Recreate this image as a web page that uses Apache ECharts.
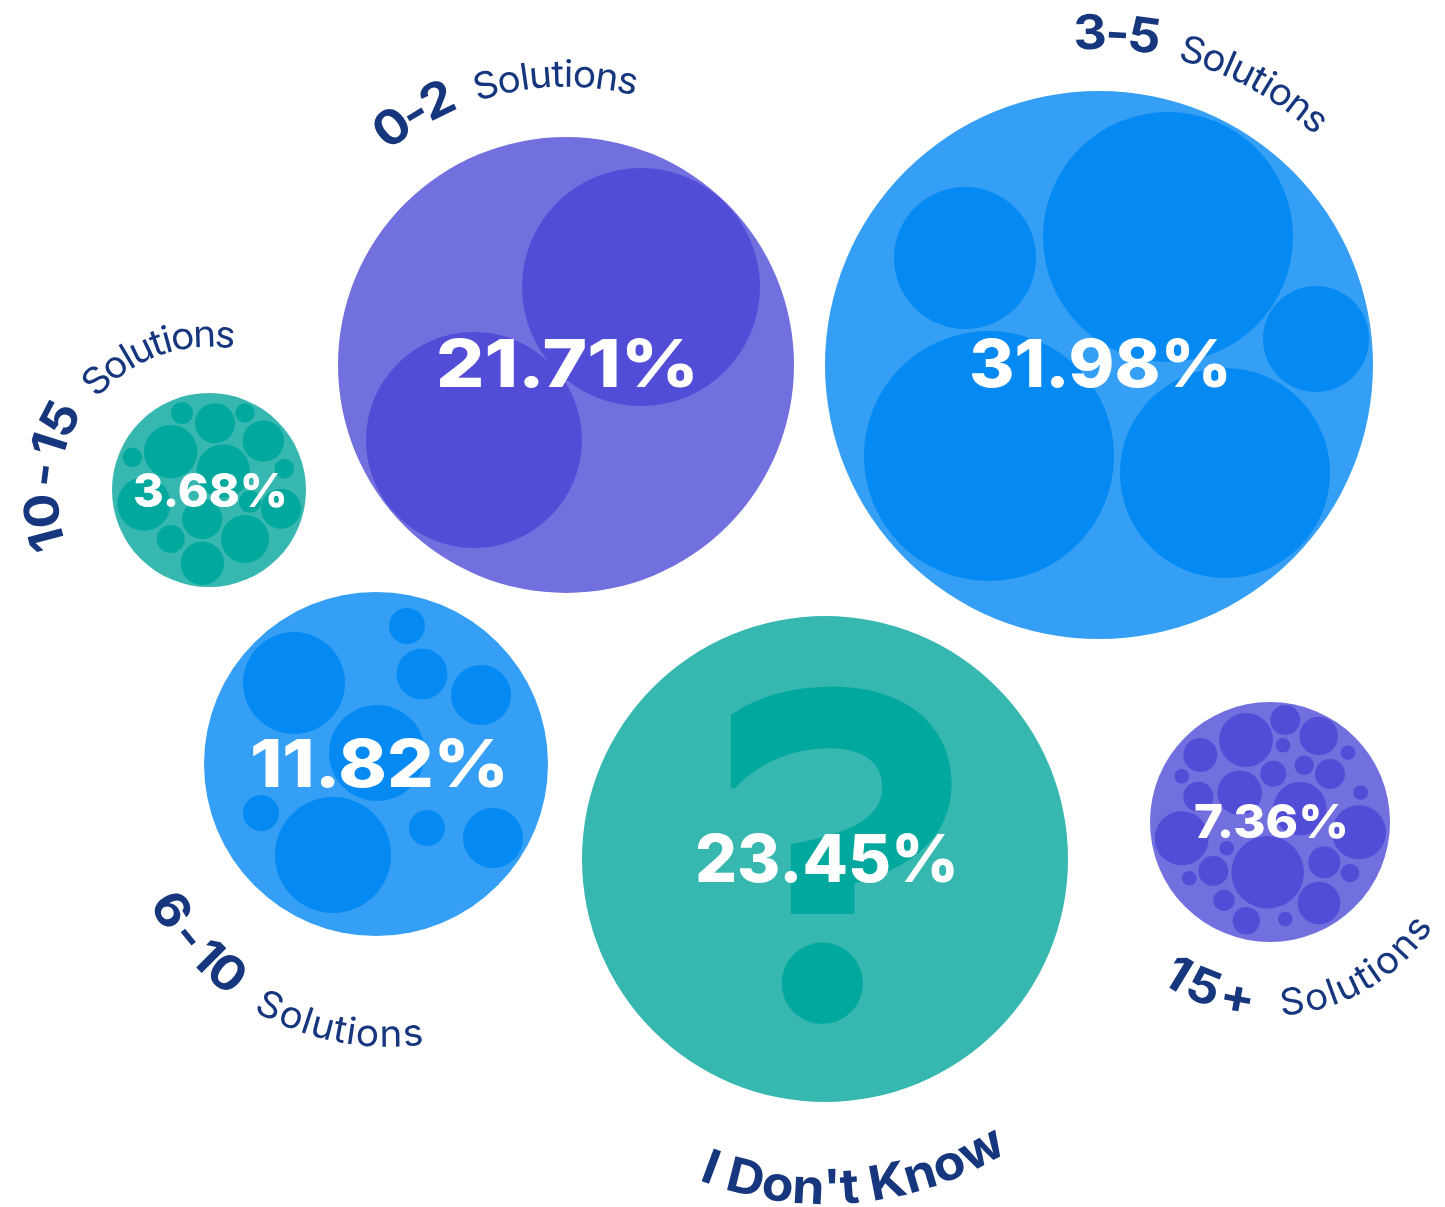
<!DOCTYPE html>
<html><head><meta charset="utf-8">
<style>html,body{margin:0;padding:0;background:#fff}#c{width:1445px;height:1207px}</style>
<script src="https://cdn.jsdelivr.net/npm/echarts@6/dist/echarts.min.js"></script>
</head><body><div id="c"></div>
<script>
// Outer bubbles: [x, y, radius]
const groupNames = ['0-2', '3-5', '10-15', '6-10', 'I Don\'t Know', '15+'];
const outerBubbles = [[566,365,228],[1099,365,274],[209,490,97],[376,764,172],[825,859,243],[1270,822,120]];
const outerColors = ['#7270df','#349ff4','#36b7af','#349ff4','#36b7af','#7270df'];
const innerColors = ['#524dd6','#0589f2','#01a89e','#0589f2','#01a89e','#524dd6'];
const inner0to2 = [[641,287,119],[474,440,108]];
const inner3to5 = [[1168,237,125],[965,258,71],[1316,339,53],[989,456,125],[1225,473,105]];
const inner10to15 = [[182,413,11],[215,423.3,20],[245,413,9.7],[263.3,441,20.7],[170.7,451.7,26.7],[132.3,457.3,9.7],[223.3,471,26.7],[284.3,468.7,9.7],[144,504,26.7],[281,508.7,20],[250,501.7,11],[202.3,519,20],[170.7,539,14],[245,539,24],[202.3,563.3,21.7]];
const inner6to10 = [[294,683,51],[407,626,18],[422,674,25.5],[481,695,30],[377,753,48],[261,813,18],[333,855,58],[427,828,18],[493,838,30]];
const innerUnknown = [[822.3,983.3,40.7]];
const inner15plus = [[1246,740,27],[1285.3,720,15],[1318.7,736,19.3],[1200.3,755,17],[1283,745.3,7.3],[1348,752.7,7.3],[1181.7,776.3,7.3],[1273.3,773.7,13],[1304.3,765.3,9.7],[1330,774,15],[1239.7,792.7,22.3],[1198.3,796.7,15],[1300,808.7,26.7],[1360.7,792.7,7.3],[1181.7,838.3,27],[1359,832.3,27],[1226.7,848.3,7.3],[1267.7,872.3,36.3],[1324.3,862.3,16],[1213.3,871,15],[1189.3,878.3,7.3],[1350,873,9.3],[1319,903,21.3],[1224,900.3,10.7],[1246.3,920.7,13.7],[1285.3,919,7.3]];
const innerGroups = [inner0to2, inner3to5, inner10to15, inner6to10, innerUnknown, inner15plus];
// Question mark glyph
const questionCentre = [841.3, 800.3];
const questionSize = [220.7, 227.3];
const questionPath = 'path://M153 135C240 75 340 50 460 50C680 50 815 170 815 340C815 490 710 590 523 640L523 732L333 732L333 522C520 490 607 440 607 350C607 280 550 235 450 235C340 235 240 275 165 355L153 355Z';
// Percent labels: [x, y, text, font size, drawn width]
const percentLabels = [[567.5,367,'21.71%',66,263],[1100.5,367,'31.98%',66,263],[379.5,767,'11.82%',66,259],[827,862,'23.45%',66,264],[210.5,493,'3.68%',47,155],[1271.5,823.5,'7.36%',47,155]];
// Curved labels: text, arc centre x, y, radius, start and end angle, weight, size, horizontal stretch, top arc or bottom arc
const curvedLabels = [
  ['0-2',566,365,279,-38.8,-23.5,700,48,1.08,'top'],
  ['Solutions',566,365,279,-18.4,14.3,400,37,1.05,'top'],
  ['3-5',1099,365,317,-3.8,10.1,700,48,1.08,'top'],
  ['Solutions',1099,365,316,14.5,43.2,400,37,1.05,'top'],
  ['10-15',210,496,153,-109,-57,700,48,1.08,'top'],
  ['Solutions',210,496,150,-48.7,8.9,400,37,1.05,'top'],
  ['6-10',389,774,272,-61.5,-35.5,700,48,1.08,'bottom'],
  ['Solutions',389,774,272,-30,7.5,400,37,1.05,'bottom'],
  ['15+',1270,822,193,-35,-4.5,700,48,1.08,'bottom'],
  ['Solutions',1270,822,193,3,57.5,400,37,1.05,'bottom'],
  ["I Don't Know",825,859,344,-21.5,32,700,48,1.08,'bottom']
];
const fontFamily = 'Inter';
const textColor = '#16377d';
const percentWeight = 800;

const measure = document.createElement('canvas').getContext('2d');
function glyphs() {
  const out = [];
  curvedLabels.forEach(([text,cx,cy,r,a0,a1,weight,size,stretch,side]) => {
    measure.font = weight+' '+size+'px '+fontFamily;
    const chars = Array.from(text);
    const adv = chars.map(c => measure.measureText(c).width * (c === '-' ? 1.5 : 1));
    const total = adv.reduce((a,b)=>a+b,0);
    let run = 0;
    chars.forEach((c,i) => {
      const t = (run + adv[i]/2) / total;
      run += adv[i];
      if (c === ' ') return;
      const a = (a0 + (a1-a0)*t) * Math.PI/180;
      const top = side === 'top';
      const rr = top ? r + size*0.28 : r - size*0.28;
      const x = cx + rr*Math.sin(a);
      const y = top ? cy - rr*Math.cos(a) : cy + rr*Math.cos(a);
      const rot = top ? -a : a;
      out.push([x,y,c,rot,weight,size,stretch]);
    });
  });
  return out;
}

const bubble = (data,color,z) => ({type:'scatter',data,z,silent:true,symbol:'circle',
  symbolSize:v=>v[2]*2,itemStyle:{color,opacity:1},emphasis:{disabled:true}});

const series = [];
outerBubbles.forEach((b,i)=>{
  series.push(bubble([b],outerColors[i],1));
  series.push(bubble(innerGroups[i],innerColors[i],2));
});
series.push({type:'scatter',z:3,silent:true,data:[questionCentre],symbol:questionPath,symbolSize:questionSize,symbolKeepAspect:false,itemStyle:{color:innerColors[4],opacity:1}});
series.push({type:'custom',z:10,silent:true,coordinateSystem:'cartesian2d',data:percentLabels,
  renderItem:(p,api)=>{const d=percentLabels[p.dataIndex];const c=api.coord([d[0],d[1]]);
    measure.font=percentWeight+' '+d[3]+'px '+fontFamily;
    const sx=d[4]/measure.measureText(d[2]).width;
    return {type:'text',x:c[0],y:c[1],scaleX:sx,style:{text:d[2],fill:'#fff',fontFamily,fontWeight:percentWeight,fontSize:d[3],align:'center',verticalAlign:'middle'}};}});
const gl = glyphs();
series.push({type:'custom',z:10,silent:true,coordinateSystem:'cartesian2d',data:gl,
  renderItem:(p,api)=>{const d=gl[p.dataIndex];const c=api.coord([d[0],d[1]]);
    return {type:'text',x:c[0],y:c[1],rotation:d[3],scaleX:d[6],style:{text:d[2],fill:textColor,fontFamily,fontWeight:d[4],fontSize:d[5],align:'center',verticalAlign:'middle'}};}});

const chart = echarts.init(document.getElementById('c'),null,{renderer:'canvas'});
chart.setOption({
  animation:false,backgroundColor:'#fff',
  grid:{left:0,right:0,top:0,bottom:0},
  xAxis:{type:'value',min:0,max:1445,show:false},
  yAxis:{type:'value',min:0,max:1207,inverse:true,show:false},
  tooltip:{show:false},legend:{show:false},
  series
});
</script></body></html>
